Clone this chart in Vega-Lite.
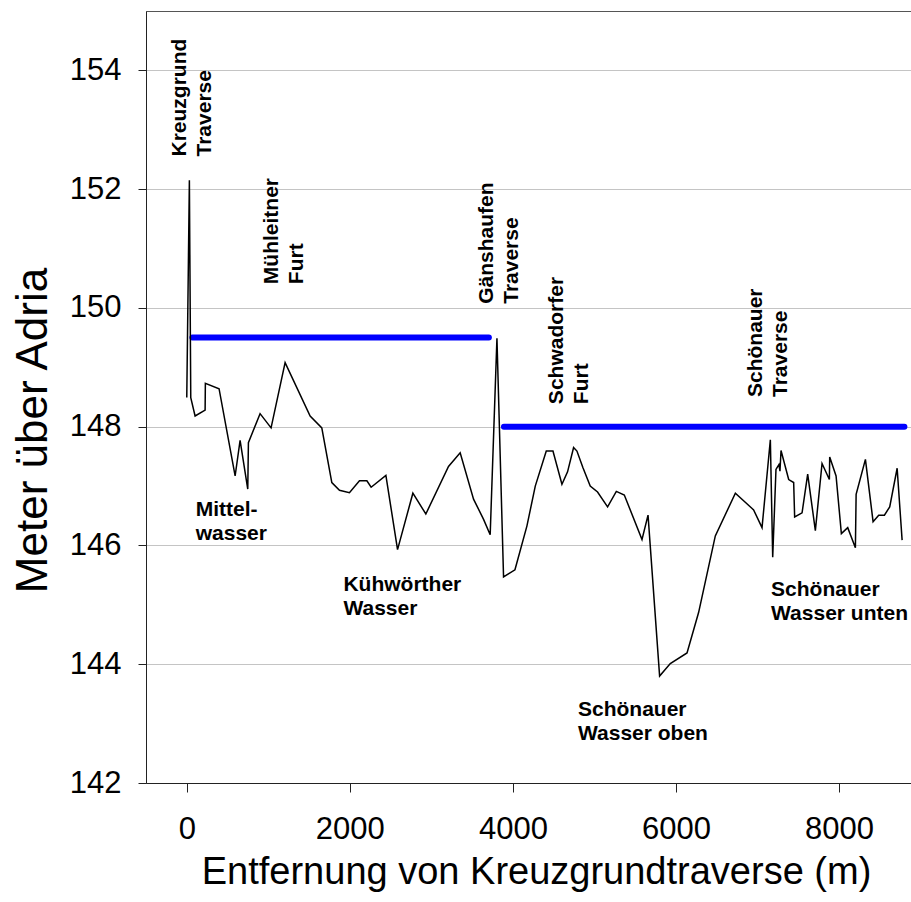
{
  "$schema": "https://vega.github.io/schema/vega-lite/v6.json",
  "autosize": {"type": "none"},
  "padding": {"left": 146, "top": 11, "right": 0, "bottom": 119},
  "width": 765,
  "height": 772,
  "background": "white",
  "config": {
    "view": {"stroke": "#555555", "strokeWidth": 1},
    "font": "Liberation Sans",
    "axis": {
      "labelFont": "Liberation Sans",
      "titleFont": "Liberation Sans",
      "labelColor": "black",
      "titleColor": "black",
      "domainColor": "#222222",
      "tickColor": "#222222",
      "labelFontSize": 31,
      "titleFontWeight": "normal",
      "labelLimit": 0,
      "titleLimit": 0
    }
  },
  "datasets": {
    "profile": [
      {"i": 1, "x": 0, "y": 148.49}, {"i": 2, "x": 32, "y": 152.15}, {"i": 3, "x": 49, "y": 148.49},
      {"i": 4, "x": 102, "y": 148.18}, {"i": 5, "x": 225, "y": 148.28}, {"i": 6, "x": 228, "y": 148.73},
      {"i": 7, "x": 396, "y": 148.64}, {"i": 8, "x": 593, "y": 147.17}, {"i": 9, "x": 654, "y": 147.77},
      {"i": 10, "x": 748, "y": 146.95}, {"i": 11, "x": 756, "y": 147.73}, {"i": 12, "x": 899, "y": 148.22},
      {"i": 13, "x": 1034, "y": 147.98}, {"i": 14, "x": 1206, "y": 149.08}, {"i": 15, "x": 1513, "y": 148.18},
      {"i": 16, "x": 1656, "y": 147.98}, {"i": 17, "x": 1779, "y": 147.06}, {"i": 18, "x": 1873, "y": 146.93},
      {"i": 19, "x": 1995, "y": 146.89}, {"i": 20, "x": 2118, "y": 147.09}, {"i": 21, "x": 2209, "y": 147.09},
      {"i": 22, "x": 2261, "y": 146.98}, {"i": 23, "x": 2442, "y": 147.18}, {"i": 24, "x": 2585, "y": 145.93},
      {"i": 25, "x": 2773, "y": 146.88}, {"i": 26, "x": 2932, "y": 146.53}, {"i": 27, "x": 3210, "y": 147.33},
      {"i": 28, "x": 3353, "y": 147.56}, {"i": 29, "x": 3517, "y": 146.78}, {"i": 30, "x": 3640, "y": 146.44},
      {"i": 31, "x": 3721, "y": 146.18}, {"i": 32, "x": 3804, "y": 149.49}, {"i": 33, "x": 3885, "y": 145.47},
      {"i": 34, "x": 4025, "y": 145.59}, {"i": 35, "x": 4172, "y": 146.33}, {"i": 36, "x": 4274, "y": 147.0},
      {"i": 37, "x": 4409, "y": 147.59}, {"i": 38, "x": 4491, "y": 147.59}, {"i": 39, "x": 4601, "y": 147.03},
      {"i": 40, "x": 4670, "y": 147.24}, {"i": 41, "x": 4744, "y": 147.65}, {"i": 42, "x": 4785, "y": 147.59},
      {"i": 43, "x": 4859, "y": 147.31}, {"i": 44, "x": 4948, "y": 147.0}, {"i": 45, "x": 5038, "y": 146.9},
      {"i": 46, "x": 5161, "y": 146.65}, {"i": 47, "x": 5268, "y": 146.91}, {"i": 48, "x": 5366, "y": 146.85},
      {"i": 49, "x": 5583, "y": 146.1}, {"i": 50, "x": 5657, "y": 146.51}, {"i": 51, "x": 5799, "y": 143.8},
      {"i": 52, "x": 5930, "y": 144.01}, {"i": 53, "x": 6135, "y": 144.19}, {"i": 54, "x": 6277, "y": 144.87},
      {"i": 55, "x": 6482, "y": 146.16}, {"i": 56, "x": 6728, "y": 146.88}, {"i": 57, "x": 6952, "y": 146.6},
      {"i": 58, "x": 7055, "y": 146.3}, {"i": 59, "x": 7157, "y": 147.78}, {"i": 60, "x": 7186, "y": 145.8},
      {"i": 61, "x": 7226, "y": 147.28}, {"i": 62, "x": 7262, "y": 147.36}, {"i": 63, "x": 7275, "y": 147.25},
      {"i": 64, "x": 7288, "y": 147.6}, {"i": 65, "x": 7382, "y": 147.11}, {"i": 66, "x": 7443, "y": 147.06},
      {"i": 67, "x": 7455, "y": 146.48}, {"i": 68, "x": 7546, "y": 146.55}, {"i": 69, "x": 7615, "y": 147.2},
      {"i": 70, "x": 7709, "y": 146.25}, {"i": 71, "x": 7791, "y": 147.38}, {"i": 72, "x": 7881, "y": 147.11},
      {"i": 73, "x": 7885, "y": 147.49}, {"i": 74, "x": 7963, "y": 147.17}, {"i": 75, "x": 8028, "y": 146.2},
      {"i": 76, "x": 8106, "y": 146.3}, {"i": 77, "x": 8200, "y": 145.96}, {"i": 78, "x": 8209, "y": 146.86},
      {"i": 79, "x": 8323, "y": 147.45}, {"i": 80, "x": 8417, "y": 146.4}, {"i": 81, "x": 8486, "y": 146.51},
      {"i": 82, "x": 8556, "y": 146.51}, {"i": 83, "x": 8621, "y": 146.65}, {"i": 84, "x": 8712, "y": 147.3},
      {"i": 85, "x": 8773, "y": 146.09}
    ],
    "levels": [
      {"seg": "a", "x": 69, "y": 149.5}, {"seg": "a", "x": 3705, "y": 149.5},
      {"seg": "b", "x": 3890, "y": 148.0}, {"seg": "b", "x": 8801, "y": 148.0}
    ],
    "vlabels": [
      {"label": "Kreuzgrund\nTraverse", "x": -10, "y": 152.55},
      {"label": "Mühleitner\nFurt", "x": 1124, "y": 150.4},
      {"label": "Gänshaufen\nTraverse", "x": 3758, "y": 150.07},
      {"label": "Schwadorfer\nFurt", "x": 4609, "y": 148.38},
      {"label": "Schönauer\nTraverse", "x": 7055, "y": 148.5}
    ],
    "hlabels": [
      {"label": "Mittel-\nwasser", "x": 110, "y": 146.5},
      {"label": "Kühwörther\nWasser", "x": 1921, "y": 145.24},
      {"label": "Schönauer\nWasser oben", "x": 4798, "y": 143.12},
      {"label": "Schönauer\nWasser unten", "x": 7166, "y": 145.15}
    ]
  },
  "layer": [
    {
      "data": {"name": "levels"},
      "mark": {"type": "line", "color": "#0000ff", "strokeWidth": 6, "strokeCap": "round"},
      "encoding": {
        "x": {
          "field": "x", "type": "quantitative",
          "scale": {"domain": [-500, 8882], "nice": false, "zero": false},
          "axis": {
            "values": [0, 2000, 4000, 6000, 8000],
            "format": "d",
            "grid": false,
            "tickSize": 9,
            "labelPadding": 22,
            "title": "Entfernung von Kreuzgrundtraverse (m)",
            "titleFontSize": 38,
            "titleBaseline": "alphabetic",
            "titleX": 390,
            "titleY": 100
          }
        },
        "y": {
          "field": "y", "type": "quantitative",
          "scale": {"domain": [142, 155], "nice": false, "zero": false},
          "axis": {
            "values": [142, 144, 146, 148, 150, 152, 154],
            "format": "d",
            "grid": true,
            "gridColor": "#c4c4c4",
            "gridWidth": 1,
            "tickSize": 8,
            "labelPadding": 17,
            "title": "Meter über Adria",
            "titleFontSize": 44,
            "titleBaseline": "alphabetic",
            "titleAngle": 270,
            "titleAlign": "center",
            "titleX": -100,
            "titleY": 419
          }
        },
        "detail": {"field": "seg"}
      }
    },
    {
      "data": {"name": "profile"},
      "mark": {"type": "line", "color": "black", "strokeWidth": 1.5},
      "encoding": {
        "x": {"field": "x", "type": "quantitative"},
        "y": {"field": "y", "type": "quantitative"},
        "order": {"field": "i", "type": "quantitative"}
      }
    },
    {
      "data": {"name": "vlabels"},
      "mark": {"type": "text", "angle": 270, "align": "left", "baseline": "alphabetic", "font": "Liberation Sans", "fontWeight": "bold", "fontSize": 21, "lineBreak": "\n", "lineHeight": 25, "color": "black"},
      "encoding": {
        "x": {"field": "x", "type": "quantitative"},
        "y": {"field": "y", "type": "quantitative"},
        "text": {"field": "label"}
      }
    },
    {
      "data": {"name": "hlabels"},
      "mark": {"type": "text", "align": "left", "baseline": "alphabetic", "font": "Liberation Sans", "fontWeight": "bold", "fontSize": 21, "lineBreak": "\n", "lineHeight": 24, "color": "black"},
      "encoding": {
        "x": {"field": "x", "type": "quantitative"},
        "y": {"field": "y", "type": "quantitative"},
        "text": {"field": "label"}
      }
    }
  ]
}
